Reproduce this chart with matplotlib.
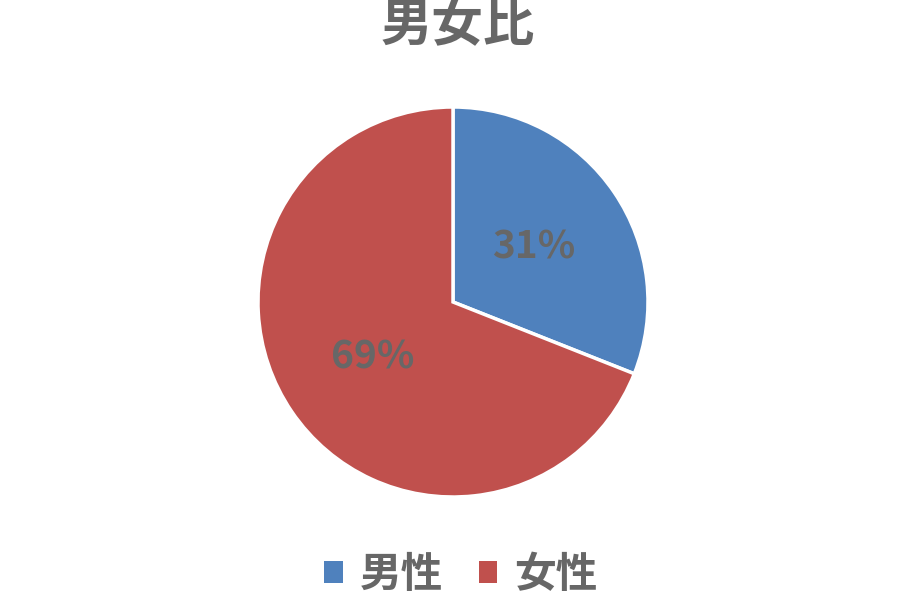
import matplotlib
matplotlib.use("Agg")
import matplotlib.pyplot as plt

plt.rcParams['font.family'] = ['Noto Sans CJK JP', 'DejaVu Sans']

title = "男女比"
categories = ["男性", "女性"]
values = [31, 69]
colors = ["#4F81BD", "#C0504D"]
text_color = "#676767"

fig = plt.figure(figsize=(9, 6), dpi=100)
cx, cy, r = 453, 302, 195
pad = 1.02
ax = fig.add_axes([(cx - r * pad) / 900, (600 - cy - r * pad) / 600,
                   2 * r * pad / 900, 2 * r * pad / 600])
wedges, texts, autotexts = ax.pie(
    values, colors=colors, startangle=90, counterclock=False,
    autopct=lambda p: f"{p:.0f}%", pctdistance=0.5, radius=1,
    wedgeprops=dict(edgecolor="white", linewidth=2.5),
    textprops=dict(color=text_color, fontsize=28, fontweight="bold"),
)
ax.set_xlim(-pad, pad)
ax.set_ylim(-pad, pad)
ax.set_aspect("equal")
ax.axis("off")

fig.text(0.509, 0.957, title, ha="center", va="center", fontsize=37,
         fontweight="bold", color=text_color)

leg = fig.legend(wedges, categories, loc="center", bbox_to_anchor=(0.512, 0.042),
                 ncol=2, frameon=False, fontsize=30, handlelength=0.45,
                 handleheight=0.45, handletextpad=0.4, columnspacing=0.85)
for t in leg.get_texts():
    t.set_color(text_color)
    t.set_fontweight("bold")
for h in leg.legend_handles:
    h.set_edgecolor("none")

fig.savefig("out.png", dpi=100)
